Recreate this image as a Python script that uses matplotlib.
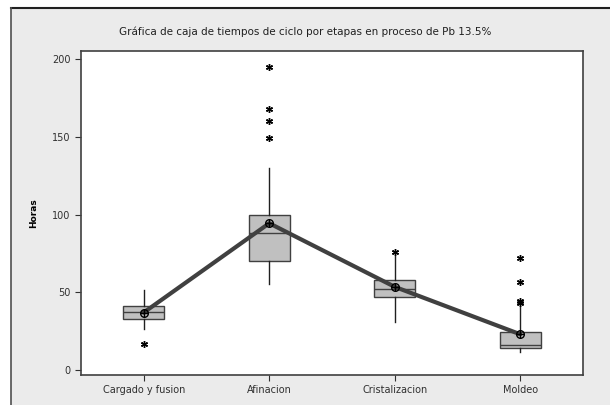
import matplotlib.pyplot as plt
from matplotlib.patches import Rectangle
from matplotlib.lines import Line2D

# etapas del proceso
etapas = ['Cargado y fusion', 'Afinacion', 'Cristalizacion', 'Moldeo']

# estadisticos (horas)
q1 = [32.9, 70.3, 47.1, 14.0]
medianas = [37.4, 87.9, 52.1, 16.1]
q3 = [41.3, 100.0, 57.9, 24.5]
bigote_inf = [26.5, 55.3, 31.2, 11.6]
bigote_sup = [51.6, 130.1, 73.5, 41.0]
medias = [37.0, 94.4, 53.5, 23.0]
atipicos = [[16.8], [195, 168, 160, 149], [75.7], [72, 56.3, 44.5, 42.8]]

fig = plt.figure(figsize=(6.1, 4.05), dpi=100, facecolor='white')

# panel gris de fondo con borde arriba y a la izquierda
x0 = 11 / 610
y1 = 1 - 8 / 405
fig.patches.append(Rectangle((x0, 0), 1 - x0, y1, transform=fig.transFigure,
                             facecolor='#ebebeb', edgecolor='none', zorder=-10))
fig.lines.append(Line2D([x0, 1], [y1, y1], transform=fig.transFigure, color='#202020', lw=1.5, zorder=-9))
fig.lines.append(Line2D([x0, x0], [0, y1], transform=fig.transFigure, color='#505050', lw=1.2, zorder=-9))

ax = fig.add_axes([81 / 610, 30 / 405, 502 / 610, 324 / 405])
ax.set_facecolor('white')

stats = []
for i in range(len(etapas)):
    stats.append({
        'label': etapas[i],
        'q1': q1[i], 'med': medianas[i], 'q3': q3[i],
        'whislo': bigote_inf[i], 'whishi': bigote_sup[i],
        'fliers': atipicos[i],
    })

pos = [1, 2, 3, 4]
ax.bxp(stats, positions=pos, widths=0.33, patch_artist=True, showcaps=False,
       boxprops=dict(facecolor='#c0c0c0', edgecolor='#404040', lw=1),
       medianprops=dict(color='#404040', lw=1),
       whiskerprops=dict(color='#202020', lw=1),
       flierprops=dict(marker=(6, 2, 0), markersize=5, markeredgecolor='black',
                       markeredgewidth=1, linestyle='none'))

# linea de medias
ax.plot(pos, medias, color='#404040', lw=3, solid_capstyle='round', zorder=4)
ax.plot(pos, medias, 'o', ms=5.5, mfc='none', mec='black', mew=1, zorder=5)
ax.plot(pos, medias, '+', ms=5.5, color='black', mew=1, zorder=5)

ax.set_xlim(0.5, 4.5)
ax.set_ylim(-3.2, 205.2)
ax.set_yticks([0, 50, 100, 150, 200])
ax.set_xticks(pos)
ax.set_xticklabels(etapas)
ax.tick_params(labelsize=7, colors='#303030', length=4, width=0.8)
for s in ax.spines.values():
    s.set_color('#404040')
    s.set_linewidth(1.2)

ax.set_ylabel('Horas', fontsize=6.5, fontweight='bold', labelpad=10)
fig.text(0.5, 1 - 32 / 405,
         'Gráfica de caja de tiempos de ciclo por etapas en proceso de Pb 13.5%',
         ha='center', va='center', fontsize=7.5, color='#202020')

fig.savefig('out.png', dpi=100, facecolor='white')
